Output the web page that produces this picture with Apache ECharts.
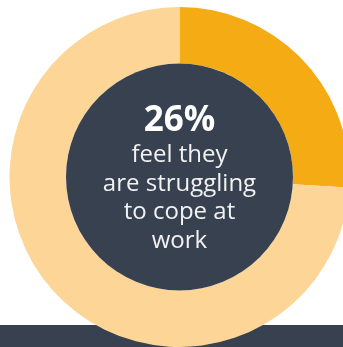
<!DOCTYPE html>
<html>
<head>
<meta charset="utf-8">
<script src="https://cdn.jsdelivr.net/npm/echarts@6/dist/echarts.min.js"></script>
<style>
  html, body { margin: 0; padding: 0; background: #ffffff; }
  #chart { width: 343px; height: 347px; }
</style>
</head>
<body>
<div id="chart"></div>
<script>
// Share of people who feel they are struggling to cope at work
const categories = ['Struggling to cope', 'Others'];
const shareValues = [26, 74];
const captionLines = ['feel they', 'are struggling', 'to cope at', 'work'];

const ringColors = ['#f5ab14', '#fcd597'];
const darkNavy = '#37414f';
const cx = 179.5, cy = 177;

const chart = echarts.init(document.getElementById('chart'), null, { renderer: 'canvas' });

chart.setOption({
  animation: false,
  backgroundColor: '#ffffff',
  graphic: [
    {
      type: 'rect',
      z: 0,
      shape: { x: 0, y: 325, width: 343, height: 22 },
      style: { fill: darkNavy }
    },
    {
      type: 'text',
      z: 100,
      x: cx,
      y: 121,
      style: {
        text: shareValues[0] + '%',
        fill: '#ffffff',
        font: 'bold 35px "Open Sans"',
        align: 'center',
        verticalAlign: 'middle'
      }
    },
    {
      type: 'text',
      z: 100,
      x: cx,
      y: 198,
      style: {
        text: captionLines.join('\n'),
        fill: '#f2f2f2',
        font: '24px "Open Sans"',
        lineHeight: 28.5,
        align: 'center',
        verticalAlign: 'middle'
      }
    }
  ],
  series: [
    {
      type: 'pie',
      center: [cx, cy],
      radius: [113.5, 170],
      startAngle: 90,
      clockwise: true,
      silent: true,
      label: { show: false },
      labelLine: { show: false },
      itemStyle: { borderWidth: 0 },
      data: categories.map((name, i) => ({
        name: name,
        value: shareValues[i],
        itemStyle: { color: ringColors[i] }
      }))
    },
    {
      type: 'pie',
      center: [cx, cy],
      radius: [0, 113.5],
      silent: true,
      label: { show: false },
      labelLine: { show: false },
      itemStyle: { color: darkNavy, borderWidth: 0 },
      data: [{ name: 'core', value: 1 }]
    }
  ]
});
</script>
</body>
</html>
